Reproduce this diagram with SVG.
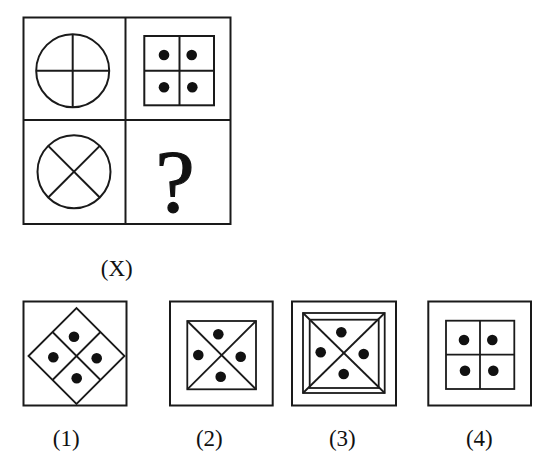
<svg xmlns="http://www.w3.org/2000/svg" width="558" height="464" viewBox="0 0 558 464">
<style>
.ln{fill:none;stroke:#1a1a1a;stroke-width:2}
.th{fill:none;stroke:#1a1a1a;stroke-width:1.8}
.dot{fill:#111}
.lbl{font-family:"Liberation Serif","Times New Roman",serif;fill:#111;text-anchor:middle}
</style>
<rect width="558" height="464" fill="#fff"/>
<g id="grid">
<rect class="ln" x="23.5" y="17.5" width="207" height="206.5"/>
<line class="ln" x1="125.5" y1="17.5" x2="125.5" y2="224"/>
<line class="ln" x1="23.5" y1="120" x2="230.5" y2="120"/>
</g>
<g id="cell-circle-plus">
<circle class="ln" cx="72.7" cy="70.7" r="36.5"/>
<line class="ln" x1="36.2" y1="70.7" x2="109.2" y2="70.7"/>
<line class="ln" x1="72.7" y1="34.2" x2="72.7" y2="107.2"/>
</g>
<g id="cell-square-plus">
<rect class="ln" x="144.3" y="36" width="69.7" height="69.3"/>
<line class="ln" x1="179.5" y1="36" x2="179.5" y2="105.3"/>
<line class="ln" x1="144.3" y1="70.7" x2="214" y2="70.7"/>
<circle class="dot" cx="164" cy="55" r="5.3"/>
<circle class="dot" cx="191.7" cy="55" r="5.3"/>
<circle class="dot" cx="164" cy="87.3" r="5.3"/>
<circle class="dot" cx="192.3" cy="87.3" r="5.3"/>
</g>
<g id="cell-circle-x">
<circle class="ln" cx="74" cy="171.7" r="36.5"/>
<line class="ln" x1="48.2" y1="145.9" x2="99.8" y2="197.5"/>
<line class="ln" x1="99.8" y1="145.9" x2="48.2" y2="197.5"/>
</g>
<g id="cell-question">
<text class="lbl" x="175" y="211" font-size="88" stroke="#111" stroke-width="1.2">?</text>
</g>
<g id="label-x">
<text class="lbl" x="116.7" y="276" font-size="23">(X)</text>
</g>
<g id="option-1">
<rect class="ln" x="23.5" y="301.5" width="103" height="104"/>
<polygon class="th" points="28.5,356 76.5,308 124.5,356 76.5,404"/>
<line class="th" x1="52.5" y1="332" x2="100.5" y2="380"/>
<line class="th" x1="100.5" y1="332" x2="52.5" y2="380"/>
<circle class="dot" cx="74" cy="336.7" r="5.3"/>
<circle class="dot" cx="53.3" cy="357.3" r="5.3"/>
<circle class="dot" cx="96.7" cy="358.3" r="5.3"/>
<circle class="dot" cx="76.7" cy="378.3" r="5.3"/>
<text class="lbl" x="66.2" y="446" font-size="23">(1)</text>
</g>
<g id="option-2">
<rect class="ln" x="170" y="301.5" width="102.7" height="104"/>
<rect class="th" x="187.3" y="321" width="68.7" height="68.3"/>
<line class="th" x1="187.3" y1="321" x2="256" y2="389.3"/>
<line class="th" x1="256" y1="321" x2="187.3" y2="389.3"/>
<circle class="dot" cx="218.3" cy="334.3" r="5.3"/>
<circle class="dot" cx="198.3" cy="355" r="5.3"/>
<circle class="dot" cx="240.7" cy="356.7" r="5.3"/>
<circle class="dot" cx="220.7" cy="376.7" r="5.3"/>
<text class="lbl" x="209.3" y="446" font-size="23">(2)</text>
</g>
<g id="option-3">
<rect class="ln" x="292" y="301.5" width="104" height="104"/>
<rect class="th" x="303" y="313" width="81.7" height="80"/>
<rect class="th" x="309.7" y="319.7" width="69" height="68.3"/>
<line class="th" x1="303" y1="313" x2="384.7" y2="393"/>
<line class="th" x1="384.7" y1="313" x2="303" y2="393"/>
<circle class="dot" cx="341.3" cy="332.3" r="5.3"/>
<circle class="dot" cx="320.7" cy="352.3" r="5.3"/>
<circle class="dot" cx="363.7" cy="354" r="5.3"/>
<circle class="dot" cx="343.7" cy="374" r="5.3"/>
<text class="lbl" x="342.3" y="446" font-size="23">(3)</text>
</g>
<g id="option-4">
<rect class="ln" x="428.3" y="301.5" width="102.7" height="104"/>
<rect class="th" x="446" y="320.7" width="68.3" height="68.3"/>
<line class="th" x1="480" y1="320.7" x2="480" y2="389"/>
<line class="th" x1="446" y1="354.7" x2="514.3" y2="354.7"/>
<circle class="dot" cx="464" cy="340" r="5.3"/>
<circle class="dot" cx="492.3" cy="340" r="5.3"/>
<circle class="dot" cx="465" cy="370.7" r="5.3"/>
<circle class="dot" cx="493.3" cy="370.7" r="5.3"/>
<text class="lbl" x="479.3" y="446" font-size="23">(4)</text>
</g>
</svg>
